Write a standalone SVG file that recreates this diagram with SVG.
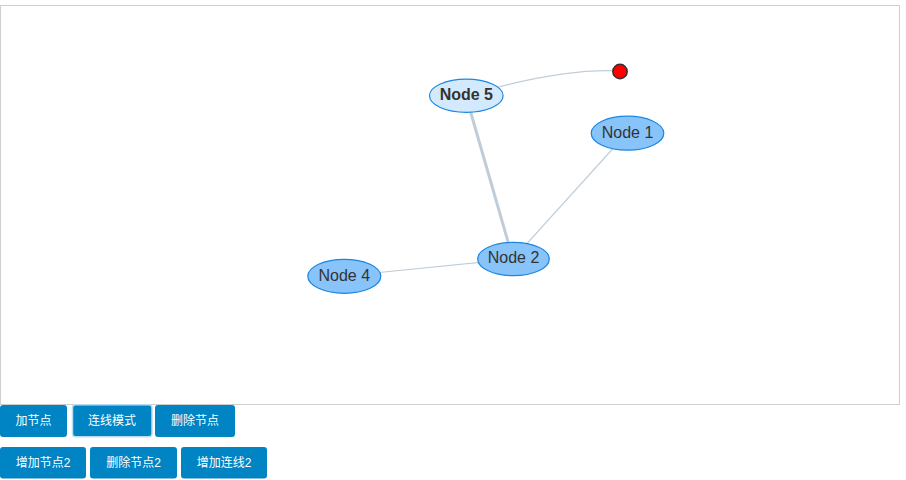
<svg xmlns="http://www.w3.org/2000/svg" width="906" height="480" viewBox="0 0 906 480">
<style>
.frame{fill:#fff;stroke:#cfcfcf;stroke-width:1}
.edge{fill:none;stroke:#c0cdd8;stroke-width:1.2}
.edge.thick{stroke-width:3}
.node ellipse{fill:#88c3f9;stroke:#1b87e3;stroke-width:1.2}
.node.sel ellipse{fill:#d3e9fd}
.node text{font-family:"Liberation Sans",Arial,sans-serif;font-size:16px;fill:#333;text-anchor:middle;dominant-baseline:central}
.node.sel text{font-weight:bold}
.dot{fill:#f00;stroke:#333;stroke-width:1.5}
.btn rect{fill:#0084c4}
.btn.focus rect{stroke:#b8dcf3;stroke-width:1.5}
.btn text{font-family:"Liberation Sans","Noto Sans CJK SC",sans-serif;font-size:12px;fill:#fff;text-anchor:middle;dominant-baseline:central}
</style>
<rect class="frame" x="0.5" y="5.5" width="899" height="399"/>
<g id="connectors">
<path class="edge" d="M466,96 Q560,68 620,71"/>
<line class="edge thick" x1="466" y1="96" x2="513" y2="259"/>
<line class="edge" x1="627" y1="133" x2="513" y2="259"/>
<line class="edge" x1="344" y1="276" x2="513" y2="259"/>
</g>
<g id="dot"><circle class="dot" cx="620" cy="71.5" r="7.2"/></g>
<g id="node5" class="node sel"><ellipse cx="466.3" cy="95.7" rx="36.8" ry="16.6"/><text x="466.3" y="94.6">Node 5</text></g>
<g id="node1" class="node"><ellipse cx="627.5" cy="133.2" rx="36.3" ry="17"/><text x="627.5" y="132">Node 1</text></g>
<g id="node2" class="node"><ellipse cx="513.5" cy="259" rx="35.8" ry="16.7"/><text x="513.5" y="257.6">Node 2</text></g>
<g id="node4" class="node"><ellipse cx="344.3" cy="276.3" rx="36.5" ry="17"/><text x="344.3" y="275">Node 4</text></g>
<g id="btn1" class="btn"><rect x="0" y="405" width="67" height="32" rx="3"/><text x="33.5" y="421">加节点</text></g>
<g id="btn2" class="btn focus"><rect x="72.5" y="404.8" width="79.5" height="32" rx="3"/><text x="112" y="421">连线模式</text></g>
<g id="btn3" class="btn"><rect x="155" y="405" width="80" height="32" rx="3"/><text x="195" y="421">删除节点</text></g>
<g id="btn4" class="btn"><rect x="0" y="447" width="86" height="31.5" rx="3"/><text x="43" y="462.5">增加节点2</text></g>
<g id="btn5" class="btn"><rect x="90" y="447" width="87" height="31.5" rx="3"/><text x="133.5" y="462.5">删除节点2</text></g>
<g id="btn6" class="btn"><rect x="181" y="447" width="86" height="31.5" rx="3"/><text x="224" y="462.5">增加连线2</text></g>
</svg>
